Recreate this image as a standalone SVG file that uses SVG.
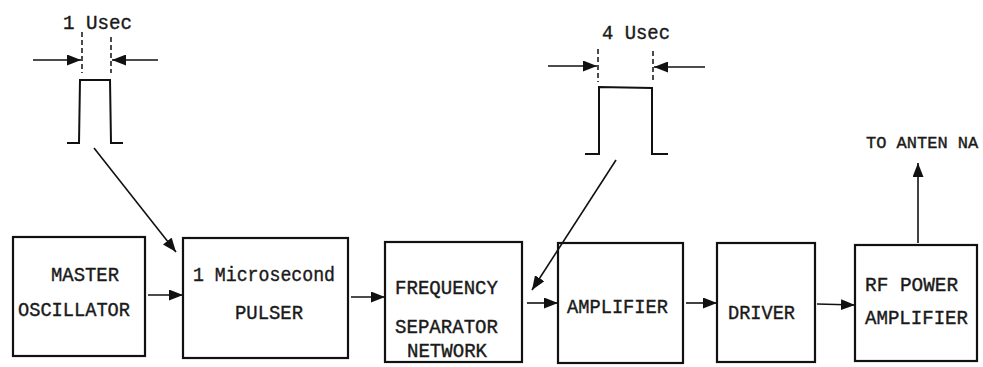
<svg xmlns="http://www.w3.org/2000/svg" width="983" height="367" viewBox="0 0 983 367">
<defs>
<marker id="ah" markerUnits="userSpaceOnUse" markerWidth="15" markerHeight="11" refX="14" refY="5.5" orient="auto">
<path d="M0,0 L14,5.5 L0,11 z" fill="#111"/>
</marker>
<style>
.box{fill:#fff;stroke:#111;stroke-width:2.2}
.t{font-family:"Liberation Mono","DejaVu Sans Mono",monospace;font-size:20px;fill:#1a1a1a;stroke:#1a1a1a;stroke-width:0.4}
.a{stroke:#111;stroke-width:1.6;fill:none;marker-end:url(#ah)}
.d{stroke:#111;stroke-width:1.5;stroke-dasharray:5,3}
.p{stroke:#111;stroke-width:2;fill:none}
</style>
</defs>
<rect width="983" height="367" fill="#fff"/>

<g id="pulse1">
<text class="t" x="63" y="29" textLength="69" lengthAdjust="spacingAndGlyphs">1 Usec</text>
<line class="d" x1="82" y1="32" x2="82" y2="73"/>
<line class="d" x1="111" y1="37" x2="111" y2="73"/>
<line class="a" x1="33" y1="60" x2="81" y2="60"/>
<line class="a" x1="158" y1="60" x2="112" y2="60"/>
<polyline class="p" points="67,143 79,143 80,80 110,80 111,143 123,143"/>
</g>

<g id="pulse2">
<text class="t" x="602" y="39" textLength="68" lengthAdjust="spacingAndGlyphs">4 Usec</text>
<line class="d" x1="598" y1="49" x2="598" y2="82"/>
<line class="d" x1="653" y1="51" x2="653" y2="82"/>
<line class="a" x1="548" y1="66" x2="597" y2="66"/>
<line class="a" x1="705" y1="67" x2="654" y2="67"/>
<polyline class="p" points="585,154 599,154 599,87 652,88 652,154 668,154"/>
</g>

<g id="mo">
<rect class="box" x="13" y="237" width="132" height="119"/>
<text class="t" x="51" y="281" textLength="68" lengthAdjust="spacingAndGlyphs">MASTER</text>
<text class="t" x="18" y="316" textLength="112" lengthAdjust="spacingAndGlyphs">OSCILLATOR</text>
</g>

<g id="pulser">
<rect class="box" x="183" y="238" width="165" height="120"/>
<text class="t" x="193" y="281" textLength="142" lengthAdjust="spacingAndGlyphs">1 Microsecond</text>
<text class="t" x="235" y="319" textLength="68" lengthAdjust="spacingAndGlyphs">PULSER</text>
</g>

<g id="fsn">
<rect class="box" x="385" y="242" width="137" height="120"/>
<text class="t" x="395" y="294" textLength="103" lengthAdjust="spacingAndGlyphs">FREQUENCY</text>
<text class="t" x="395" y="333" textLength="103" lengthAdjust="spacingAndGlyphs">SEPARATOR</text>
<text class="t" x="407" y="357" textLength="80" lengthAdjust="spacingAndGlyphs">NETWORK</text>
</g>

<g id="amp">
<rect class="box" x="558" y="243" width="125" height="120"/>
<text class="t" x="567" y="313" textLength="101" lengthAdjust="spacingAndGlyphs">AMPLIFIER</text>
</g>

<g id="driver">
<rect class="box" x="717" y="243" width="98" height="119"/>
<text class="t" x="728" y="319" textLength="67" lengthAdjust="spacingAndGlyphs">DRIVER</text>
</g>

<g id="rfpa">
<rect class="box" x="855" y="245" width="122" height="116"/>
<text class="t" x="865" y="291" textLength="93" lengthAdjust="spacingAndGlyphs">RF POWER</text>
<text class="t" x="865" y="324" textLength="103" lengthAdjust="spacingAndGlyphs">AMPLIFIER</text>
</g>

<g id="antenna">
<text class="t" x="866" y="148" style="font-size:17px">TO ANTEN NA</text>
</g>

<g id="connectors">
<line class="a" x1="94" y1="148" x2="176" y2="252"/>
<line class="a" x1="616" y1="160" x2="532" y2="290"/>
<line class="a" x1="148" y1="295" x2="183" y2="295"/>
<line class="a" x1="351" y1="297" x2="385" y2="297"/>
<line class="a" x1="527" y1="303" x2="558" y2="303"/>
<line class="a" x1="686" y1="303" x2="717" y2="303"/>
<line class="a" x1="817" y1="304" x2="855" y2="305"/>
<line class="a" x1="918" y1="243" x2="918" y2="163"/>
</g>
</svg>
